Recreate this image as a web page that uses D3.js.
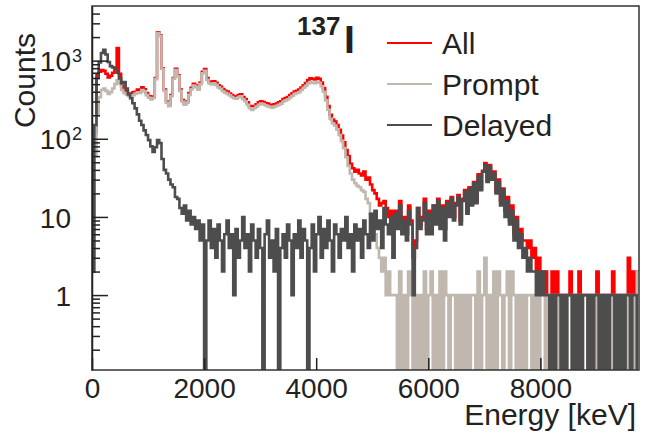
<!DOCTYPE html>
<html lang="en">
<head>
<meta charset="UTF-8">
<title>137I gamma spectrum</title>
<script src="https://d3js.org/d3.v7.min.js"></script>
<style>
  body { margin: 0; background: #fff; }
  svg { display: block; font-family: "Liberation Sans", Arial, sans-serif; }
  .tick text { fill: #222; }
  .axis path, .axis line { stroke: #222; stroke-width: 1.5px; }
</style>
</head>
<body>
<svg id="chart" width="649" height="436"></svg>
<script>
// histogram bins: 40 keV wide, starting at 0 keV
const binWidth = 40;
const xTicks = [0, 2000, 4000, 6000, 8000];
const yTicks = [1, 10, 100, 1000];
const yTickBase = ["1", "10", "10", "10"];
const yTickExp = ["", "", "2", "3"];
const seriesNames = ["All", "Prompt", "Delayed"];

const allCounts = [
  3, 120, 650, 720, 760, 740, 680, 610, 640, 700,
  800, 1450, 680, 470, 420, 405, 380, 372, 392, 400,
  425, 405, 455, 430, 385, 352, 330, 348, 600, 2300,
  2100, 800, 425, 300, 272, 362, 600, 785, 650, 425,
  312, 282, 300, 385, 450, 505, 480, 445, 525, 720,
  780, 600, 540, 525, 545, 520, 485, 462, 432, 412,
  402, 380, 362, 350, 348, 362, 372, 342, 322, 292,
  262, 250, 262, 276, 292, 302, 296, 286, 282, 272,
  266, 277, 282, 292, 302, 322, 332, 342, 362, 382,
  402, 412, 425, 452, 485, 515, 565, 595, 585, 575,
  605, 585, 525, 445, 345, 262, 202, 176, 166, 150,
  130, 110, 90, 72, 60, 48, 42, 38, 40, 36,
  34, 38, 30, 32, 26, 22, 20, 17, 14, 15,
  16, 13, 10, 12, 9, 12, 8, 16, 7, 10,
  6, 14, 9, 3, 5, 13, 8, 10, 17, 7,
  12, 8, 14, 9, 17, 9, 14, 7, 16, 11,
  18, 10, 15, 19, 9, 17, 22, 12, 24, 15,
  28, 16, 35, 23, 39, 49, 29, 46, 31, 38,
  21, 30, 16, 23, 12, 18, 9, 14, 6, 10,
  5, 7, 5, 5, 4, 5, 3, 4, 2, 3,
  2, 2, 2, 1, 1, 2, 1, 2, 1, 1,
  1, 1, 1, 2, 1, 1, 1, 2, 1, 1,
  1, 1, 1, 1, 1, 2, 0, 1, 1, 1,
  1, 1, 2, 0, 1, 1, 1, 1, 1, 3,
  0, 2, 1, 2
];

const promptCounts = [
  2, 60, 200, 340, 420, 440, 410, 375, 395, 440,
  500, 560, 510, 420, 385, 368, 352, 345, 362, 378,
  392, 385, 420, 405, 362, 335, 318, 332, 580, 2250,
  2050, 780, 410, 290, 262, 350, 585, 760, 630, 410,
  300, 272, 290, 365, 430, 480, 462, 425, 500, 690,
  740, 570, 510, 495, 512, 490, 455, 436, 405, 388,
  376, 360, 342, 330, 326, 341, 350, 320, 302, 272,
  246, 234, 246, 258, 272, 282, 278, 268, 262, 256,
  250, 258, 265, 272, 282, 300, 310, 320, 338, 355,
  375, 385, 395, 420, 450, 475, 510, 530, 520, 515,
  530, 520, 470, 400, 310, 235, 180, 158, 148, 132,
  112, 94, 76, 58, 45, 36, 30, 27, 25, 24,
  22, 21, 17, 15, 11, 8, 6, 4, 3, 2,
  3, 1, 2, 1, 1, 1, 0, 2, 0, 1,
  0, 2, 1, 0, 1, 0, 1, 0, 2, 0,
  1, 2, 0, 1, 0, 2, 0, 2, 1, 0,
  1, 1, 0, 1, 0, 1, 0, 1, 0, 1,
  1, 0, 2, 0, 1, 3, 0, 1, 0, 2,
  0, 2, 1, 0, 1, 2, 0, 2, 1, 0,
  1, 0, 1, 0, 1, 1, 0, 1, 0, 1,
  0, 0, 1, 0, 1, 0, 1, 0, 1, 1,
  0, 1, 0, 0, 1, 0, 1, 0, 1, 0,
  0, 1, 0, 1, 0, 1, 0, 0, 1, 0,
  1, 0, 1, 0, 0, 1, 0, 1, 0, 1,
  0, 1, 0, 2
];

const delayedCounts = [
  2, 150, 600, 950, 1250, 1380, 1200, 960, 850, 820,
  780, 700, 590, 510, 530, 440, 370, 330, 285, 245,
  205, 170, 150, 128, 112, 96, 80, 68, 78, 96,
  88, 55, 40, 36, 30, 26, 24, 18, 17, 13,
  11, 14, 9, 12, 8, 10, 7, 9, 5, 8,
  0, 5, 9, 4, 7, 3, 8, 5, 2, 6,
  9, 4, 6, 1, 7, 3, 5, 10, 4, 6,
  2, 8, 5, 3, 7, 4, 0, 6, 9, 3,
  5, 2, 7, 0, 4, 6, 3, 8, 5, 1,
  6, 4, 9, 3, 7, 5, 0, 4, 8, 2,
  6, 10, 3, 7, 4, 9, 5, 2, 8, 6,
  3, 7, 5, 10, 4, 6, 2, 8, 5, 7,
  3, 9, 6, 4, 11, 5, 12, 7, 9, 4,
  13, 8, 6, 10, 3, 11, 7, 14, 6, 9,
  5, 12, 8, 1, 4, 13, 7, 9, 15, 6,
  11, 6, 14, 8, 16, 7, 13, 5, 15, 10,
  17, 9, 14, 18, 8, 16, 21, 11, 23, 14,
  27, 15, 33, 22, 38, 46, 28, 44, 30, 36,
  20, 28, 14, 22, 10, 16, 8, 12, 5, 9,
  4, 6, 3, 4, 2, 3, 2, 2, 1, 2,
  1, 2, 1, 1, 0, 1, 0, 1, 1, 0,
  1, 0, 1, 1, 0, 1, 0, 1, 0, 1,
  1, 0, 1, 0, 1, 1, 0, 1, 0, 1,
  0, 1, 1, 0, 1, 0, 1, 0, 1, 1,
  0, 1, 1, 0
];

const colors = ["#ff0000", "#c0b8ae", "#4d4d4d"];

const svg = d3.select("#chart");
const plotLeft = 92, plotRight = 639, plotTop = 6, plotBottom = 370;

const x = d3.scaleLinear().domain([0, allCounts.length * binWidth]).range([plotLeft, plotRight]);
const y = d3.scaleLog().domain([0.11, 5000]).range([plotBottom, plotTop]);

// zero bins drop to the bottom of the frame, like ROOT on a log axis
const yPos = v => v > 0 ? y(v) : plotBottom + 2;

function stepPath(values) {
  const p = d3.path();
  values.forEach((v, i) => {
    const x0 = x(i * binWidth), x1 = x((i + 1) * binWidth), yy = yPos(v);
    if (i === 0) p.moveTo(x0, yy); else p.lineTo(x0, yy);
    p.lineTo(x1, yy);
  });
  return p.toString();
}

svg.append("clipPath").attr("id", "plot-clip")
  .append("rect").attr("x", plotLeft).attr("y", plotTop)
  .attr("width", plotRight - plotLeft).attr("height", plotBottom - plotTop);

const plot = svg.append("g").attr("clip-path", "url(#plot-clip)");
[allCounts, promptCounts, delayedCounts].forEach((vals, k) => {
  plot.append("path")
    .attr("d", stepPath(vals))
    .attr("fill", "none")
    .attr("stroke", colors[k])
    .attr("stroke-width", 2.6);
});

// frame
svg.append("rect")
  .attr("x", plotLeft).attr("y", plotTop)
  .attr("width", plotRight - plotLeft).attr("height", plotBottom - plotTop)
  .attr("fill", "none").attr("stroke", "#333").attr("stroke-width", 1.5);

// x axis
const xAxis = svg.append("g").attr("class", "axis")
  .attr("transform", `translate(0,${plotBottom})`)
  .call(d3.axisBottom(x).tickValues(xTicks).tickSize(-12).tickSizeOuter(0).tickPadding(8)
    .tickFormat(d3.format("d")));
xAxis.selectAll("text").attr("font-size", 28);
xAxis.select(".domain").remove();

// y axis, minor ticks first
const yMinor = [];
[0.1, 1, 10, 100, 1000].forEach(dec => {
  for (let m = 2; m <= 9; m++) {
    const v = dec * m;
    if (v > 0.11 && v < 5000) yMinor.push(v);
  }
});
svg.append("g").attr("class", "axis")
  .attr("transform", `translate(${plotLeft},0)`)
  .call(d3.axisLeft(y).tickValues(yMinor).tickSize(-8).tickSizeOuter(0).tickFormat(""))
  .select(".domain").remove();

const yAxis = svg.append("g").attr("class", "axis")
  .attr("transform", `translate(${plotLeft},0)`)
  .call(d3.axisLeft(y).tickValues(yTicks).tickSize(-16).tickSizeOuter(0).tickPadding(21)
    .tickFormat((d, i) => yTickBase[i]));
yAxis.selectAll(".tick text").attr("font-size", 28).attr("dy", "0.36em");
yAxis.selectAll(".tick").each(function(d, i) {
  if (!yTickExp[i]) return;
  d3.select(this).append("text")
    .attr("x", -20).attr("y", 1)
    .attr("text-anchor", "start")
    .attr("font-size", 18)
    .attr("fill", "#222")
    .text(yTickExp[i]);
});

// axis titles
svg.append("text")
  .attr("x", 636).attr("y", 425)
  .attr("text-anchor", "end")
  .attr("font-size", 30).attr("fill", "#222")
  .text("Energy [keV]");

svg.append("text")
  .attr("transform", "translate(35,33) rotate(-90)")
  .attr("text-anchor", "end")
  .attr("font-size", 30).attr("fill", "#222")
  .text("Counts");

// nucleus label
const nuc = svg.append("text").attr("fill", "#222").attr("font-weight", "bold");
nuc.append("tspan").attr("x", 297).attr("y", 35).attr("font-size", 26).text("137");
nuc.append("tspan").attr("x", 344).attr("y", 53).attr("font-size", 39).text("I");

// legend
const legend = svg.append("g");
seriesNames.forEach((name, k) => {
  const ly = 43 + k * 41;
  legend.append("line")
    .attr("x1", 387).attr("x2", 432).attr("y1", ly).attr("y2", ly)
    .attr("stroke", colors[k]).attr("stroke-width", 2);
  legend.append("text")
    .attr("x", 442).attr("y", ly + 10.5)
    .attr("font-size", 30).attr("fill", "#222")
    .text(name);
});
</script>
</body>
</html>
